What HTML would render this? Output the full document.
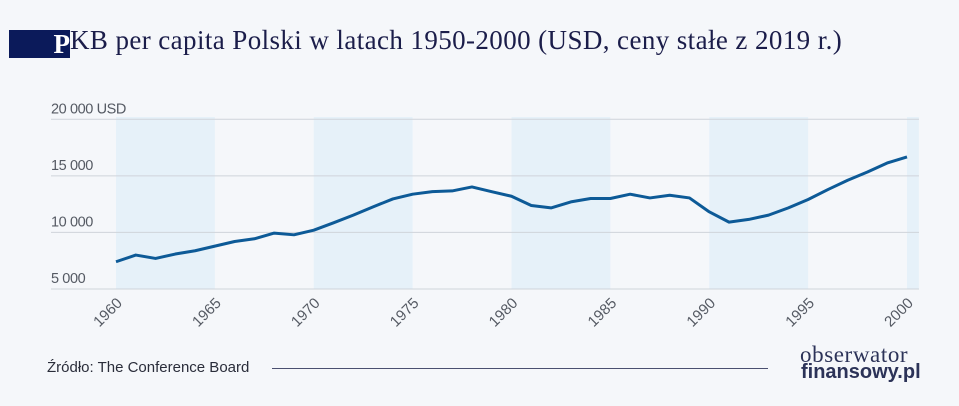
<!DOCTYPE html>
<html><head><meta charset="utf-8">
<style>
html,body{margin:0;padding:0;background:#f5f7fa;}
body{width:959px;height:406px;position:relative;overflow:hidden;font-family:"Liberation Sans",sans-serif;}
.title{position:absolute;left:9px;top:24px;font-family:"Liberation Serif",serif;font-size:27px;color:#1b1d4a;white-space:nowrap;line-height:32px;letter-spacing:0.4px;}
.title .box{display:inline-block;background:#0b1a5a;color:#fff;width:61px;height:28px;vertical-align:-4px;text-align:right;font-weight:bold;line-height:28px;letter-spacing:0;}
.src{position:absolute;left:47px;top:359px;font-size:15px;color:#2a2d3a;letter-spacing:0px;}
.rule{position:absolute;left:272px;top:368px;width:496px;height:1px;background:#4a5070;}
.logo1{position:absolute;left:800px;top:342px;font-family:"Liberation Serif",serif;font-size:23px;color:#2c3358;letter-spacing:0.6px;}
.logo2{position:absolute;left:801px;top:361px;font-family:"Liberation Sans",sans-serif;font-weight:bold;font-size:20px;color:#2c3358;letter-spacing:0px;}
</style></head><body>
<div class="title"><span class="box">P</span>KB per capita Polski w latach 1950-2000 (USD, ceny stałe z 2019 r.)</div>
<svg id="chart" width="959" height="406" style="position:absolute;left:0;top:0"></svg>
<div class="src">Źródło: The Conference Board</div>
<div class="rule"></div>
<div class="logo1">obserwator</div>
<div class="logo2">finansowy.pl</div>
<script>
const years=[1960,1961,1962,1963,1964,1965,1966,1967,1968,1969,1970,1971,1972,1973,1974,1975,1976,1977,1978,1979,1980,1981,1982,1983,1984,1985,1986,1987,1988,1989,1990,1991,1992,1993,1994,1995,1996,1997,1998,1999,2000];
const gdp=[7410,8000,7700,8090,8380,8790,9200,9440,9940,9790,10200,10850,11530,12260,12960,13380,13610,13670,14020,13600,13200,12380,12170,12700,13000,13000,13380,13050,13290,13050,11820,10910,11150,11530,12170,12910,13790,14610,15340,16140,16670];
const yTicks=[5000,10000,15000,20000];
const yLabels=["5 000","10 000","15 000","20 000 USD"];
const xTicks=[1960,1965,1970,1975,1980,1985,1990,1995,2000];
const bands=[[1960,1965],[1970,1975],[1980,1985],[1990,1995],[2000,2000.6]];
const NS="http://www.w3.org/2000/svg";
const svg=document.getElementById('chart');
const X=v=>116+(v-1960)*(907-116)/40;
const Y=v=>289-(v-5000)*(289-119.3)/15000;
function mk(t,a){const e=document.createElementNS(NS,t);for(const k in a)e.setAttribute(k,a[k]);svg.appendChild(e);return e;}
bands.forEach(b=>{const r=mk('rect',{x:X(b[0]),y:117,width:X(b[1])-X(b[0]),height:172,fill:'#e6f1f9'});

});
yTicks.forEach((t,i)=>{const l=mk('line',{x1:51,x2:919,y1:Y(t),y2:Y(t),stroke:'#cfd4da','stroke-width':1});


const tx=mk('text',{x:51,y:Y(t)-6,'font-size':14.5,fill:'#555a63','font-family':'Liberation Sans, sans-serif','letter-spacing':'-0.4'});tx.textContent=yLabels[i];

});
xTicks.forEach(t=>{const tx=mk('text',{x:X(t)+7,y:304,'font-size':15,fill:'#555a63','text-anchor':'end','font-family':'Liberation Sans, sans-serif',transform:`rotate(-45 ${X(t)+7} 304)`});tx.textContent=t;

});
const p=mk('polyline',{points:years.map((y,i)=>X(y)+','+Y(gdp[i])).join(' '),fill:'none',stroke:'#0d5a97','stroke-width':3,'stroke-linejoin':'round'});


</script>
</body></html>
